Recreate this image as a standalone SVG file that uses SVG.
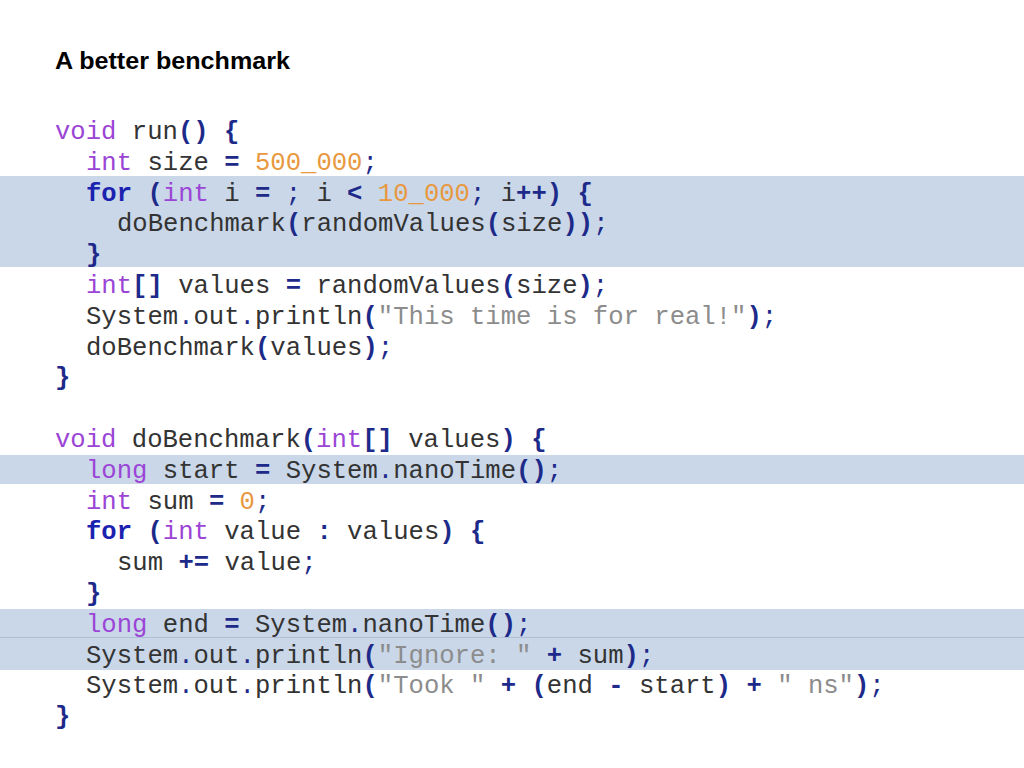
<svg xmlns="http://www.w3.org/2000/svg" width="1024" height="768" viewBox="0 0 1024 768">
<style>
.code{font-family:"Liberation Mono","Courier New",monospace;font-size:25.6px;fill:#333333;white-space:pre}
.k{fill:#9b45d6}
.b{fill:#1c22b0;font-weight:bold}
.o{fill:#1d2a8a;font-weight:bold}
.p{fill:#1d2a8a}
.n{fill:#e8983e}
.s{fill:#8c8c8c}
.band{fill:#c9d7e8}
.title{font-family:"Liberation Sans",Arial,sans-serif;font-weight:bold;font-size:24px;fill:#000000}
</style>
<rect x="0" y="0" width="1024" height="768" fill="#ffffff"/>
<g id="highlights">
<rect class="band" x="0" y="176" width="1024" height="91"/>
<rect class="band" x="0" y="455" width="1024" height="29"/>
<rect class="band" x="0" y="609" width="1024" height="61"/>
<line x1="0" y1="637.5" x2="1024" y2="637.5" stroke="#afc0d6" stroke-width="1"/>
</g>
<text id="title" class="title" x="55" y="69" textLength="235" lengthAdjust="spacingAndGlyphs">A better benchmark</text>
<g id="code" class="code" xml:space="preserve">
<text x="55" y="139"><tspan class="k">void</tspan> run<tspan class="o">()</tspan> <tspan class="o">{</tspan></text>
<text x="86" y="169.8"><tspan class="k">int</tspan> size <tspan class="o">=</tspan> <tspan class="n">500_000</tspan><tspan class="p">;</tspan></text>
<text x="86" y="200.6"><tspan class="b">for</tspan> <tspan class="o">(</tspan><tspan class="k">int</tspan> i <tspan class="o">=</tspan> <tspan class="p">;</tspan> i <tspan class="o">&lt;</tspan> <tspan class="n">10_000</tspan><tspan class="p">;</tspan> i<tspan class="o">++)</tspan> <tspan class="o">{</tspan></text>
<text x="117" y="231.4">doBenchmark<tspan class="o">(</tspan>randomValues<tspan class="o">(</tspan>size<tspan class="o">))</tspan><tspan class="p">;</tspan></text>
<text x="86" y="262.2"><tspan class="o">}</tspan></text>
<text x="86" y="293"><tspan class="k">int</tspan><tspan class="o">[]</tspan> values <tspan class="o">=</tspan> randomValues<tspan class="o">(</tspan>size<tspan class="o">)</tspan><tspan class="p">;</tspan></text>
<text x="86" y="323.8">System<tspan class="p">.</tspan>out<tspan class="p">.</tspan>println<tspan class="o">(</tspan><tspan class="s">"This time is for real!"</tspan><tspan class="o">)</tspan><tspan class="p">;</tspan></text>
<text x="86" y="354.6">doBenchmark<tspan class="o">(</tspan>values<tspan class="o">)</tspan><tspan class="p">;</tspan></text>
<text x="55" y="385.4"><tspan class="o">}</tspan></text>
<text x="55" y="447"><tspan class="k">void</tspan> doBenchmark<tspan class="o">(</tspan><tspan class="k">int</tspan><tspan class="o">[]</tspan> values<tspan class="o">)</tspan> <tspan class="o">{</tspan></text>
<text x="86" y="477.8"><tspan class="k">long</tspan> start <tspan class="o">=</tspan> System<tspan class="p">.</tspan>nanoTime<tspan class="o">()</tspan><tspan class="p">;</tspan></text>
<text x="86" y="508.6"><tspan class="k">int</tspan> sum <tspan class="o">=</tspan> <tspan class="n">0</tspan><tspan class="p">;</tspan></text>
<text x="86" y="539.4"><tspan class="b">for</tspan> <tspan class="o">(</tspan><tspan class="k">int</tspan> value <tspan class="o">:</tspan> values<tspan class="o">)</tspan> <tspan class="o">{</tspan></text>
<text x="117" y="570.2">sum <tspan class="o">+=</tspan> value<tspan class="p">;</tspan></text>
<text x="86" y="601"><tspan class="o">}</tspan></text>
<text x="86" y="631.8"><tspan class="k">long</tspan> end <tspan class="o">=</tspan> System<tspan class="p">.</tspan>nanoTime<tspan class="o">()</tspan><tspan class="p">;</tspan></text>
<text x="86" y="662.6">System<tspan class="p">.</tspan>out<tspan class="p">.</tspan>println<tspan class="o">(</tspan><tspan class="s">"Ignore: "</tspan> <tspan class="o">+</tspan> sum<tspan class="o">)</tspan><tspan class="p">;</tspan></text>
<text x="86" y="693.4">System<tspan class="p">.</tspan>out<tspan class="p">.</tspan>println<tspan class="o">(</tspan><tspan class="s">"Took "</tspan> <tspan class="o">+</tspan> <tspan class="o">(</tspan>end <tspan class="o">-</tspan> start<tspan class="o">)</tspan> <tspan class="o">+</tspan> <tspan class="s">" ns"</tspan><tspan class="o">)</tspan><tspan class="p">;</tspan></text>
<text x="55" y="724.2"><tspan class="o">}</tspan></text>
</g>
</svg>
